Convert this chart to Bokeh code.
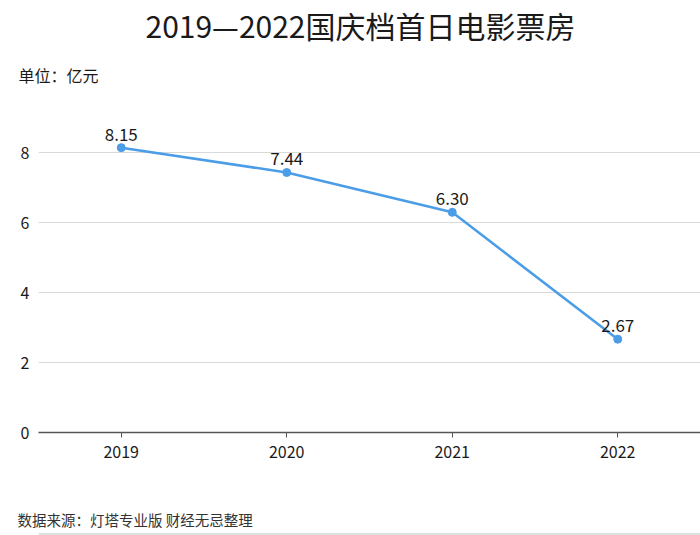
from bokeh.plotting import figure
from bokeh.layouts import column
from bokeh.models import (ColumnDataSource, Range1d, FactorRange, Title, LabelSet,
                          FixedTicker, Span)
from bokeh.core.properties import value
from bokeh.embed import file_html
from bokeh.resources import INLINE

years = ["2019", "2020", "2021", "2022"]
box_office = [8.15, 7.44, 6.30, 2.67]
value_labels = ["8.15", "7.44", "6.30", "2.67"]
y_ticks = [0, 2, 4, 6, 8]

title_text = "2019—2022国庆档首日电影票房"
unit_text = "单位：亿元"
source_text = "数据来源：灯塔专业版 财经无忌整理"

FONT = "Noto Sans CJK SC"
LINE_COLOR = "#4a9de6"
TEXT_COLOR = "#1a1a1a"

src = ColumnDataSource(dict(x=years, y=box_office, label=value_labels))

p = figure(width=700, height=504, x_range=FactorRange(*years), y_range=Range1d(0, 9.5),
           output_backend="svg", toolbar_location=None, title=None,
           min_border_left=38, min_border_right=0, min_border_top=0, min_border_bottom=72)
p.outline_line_color = None
p.background_fill_color = "white"
p.border_fill_color = "white"

p.line("x", "y", source=src, line_color=LINE_COLOR, line_width=2.5)
p.scatter("x", "y", source=src, size=8, fill_color=LINE_COLOR, line_color=LINE_COLOR)

labels = LabelSet(x="x", y="y", text="label", source=src, text_align="center",
                  text_baseline="bottom", y_offset=7, text_font=value(FONT),
                  text_font_size="17px", text_color=TEXT_COLOR)
p.add_layout(labels)

# axes
p.yaxis.ticker = FixedTicker(ticks=y_ticks)
p.yaxis.axis_line_color = None
p.yaxis.major_tick_line_color = None
p.yaxis.major_tick_in = 0
p.yaxis.major_tick_out = 0
p.yaxis.minor_tick_line_color = None
p.yaxis.major_label_text_font = FONT
p.yaxis.major_label_text_font_size = "16px"
p.yaxis.major_label_text_color = TEXT_COLOR
p.yaxis.major_label_standoff = 9

p.xaxis.axis_line_color = "#555555"
p.xaxis.axis_line_width = 1.5
p.xaxis.major_tick_line_color = "#555555"
p.xaxis.major_tick_in = 0
p.xaxis.major_tick_out = 5
p.xaxis.major_label_text_font = FONT
p.xaxis.major_label_text_font_size = "16px"
p.xaxis.major_label_text_color = TEXT_COLOR
p.xaxis.major_label_standoff = 8

p.xgrid.grid_line_color = None
p.ygrid.grid_line_color = "#d9d9d9"
p.ygrid.grid_line_width = 1

# titles
p.add_layout(Title(text=unit_text, align="left", offset=-20, text_font=FONT,
                   text_font_size="16px", text_font_style="normal",
                   text_color=TEXT_COLOR, standoff=28), "above")
p.add_layout(Title(text=title_text, align="left", offset=107, text_font=FONT,
                   text_font_size="30px", text_font_style="normal",
                   text_color=TEXT_COLOR, standoff=0), "above")

# footer strip: source note with a light divider underneath
f = figure(width=700, height=31, x_range=Range1d(0, 1), y_range=Range1d(0, 1),
           output_backend="svg", toolbar_location=None, title=None,
           min_border=0, min_border_left=0, min_border_right=0,
           min_border_top=0, min_border_bottom=0)
f.axis.visible = False
f.grid.visible = False
f.outline_line_color = None
f.border_fill_color = "white"
f.add_layout(Title(text=source_text, align="left", offset=-21, text_font=FONT,
                   text_font_size="14.5px", text_font_style="normal",
                   text_color="#333333", standoff=4), "above")
f.add_layout(Span(location=0.4, dimension="width", line_color="#e0e0e0", line_width=2))

open("out.html", "w").write(file_html(column(p, f, spacing=0), INLINE))
